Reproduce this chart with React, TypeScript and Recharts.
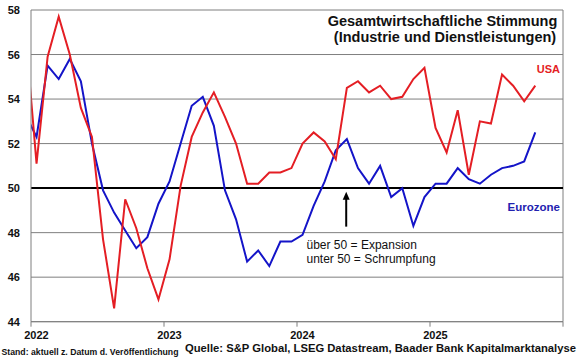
import React from "react";
import {
  LineChart,
  Line,
  XAxis,
  YAxis,
  CartesianGrid,
  ReferenceLine,
} from "recharts";

// Monthly composite PMI (S&P Global), Dec 2021 – Oct 2025
const months = [
  "2021-12",
  "2022-01", "2022-02", "2022-03", "2022-04", "2022-05", "2022-06",
  "2022-07", "2022-08", "2022-09", "2022-10", "2022-11", "2022-12",
  "2023-01", "2023-02", "2023-03", "2023-04", "2023-05", "2023-06",
  "2023-07", "2023-08", "2023-09", "2023-10", "2023-11", "2023-12",
  "2024-01", "2024-02", "2024-03", "2024-04", "2024-05", "2024-06",
  "2024-07", "2024-08", "2024-09", "2024-10", "2024-11", "2024-12",
  "2025-01", "2025-02", "2025-03", "2025-04", "2025-05", "2025-06",
  "2025-07", "2025-08", "2025-09", "2025-10",
];

const usa = [
  57.0,
  51.1, 55.9, 57.7, 56.0, 53.6, 52.3, 47.7, 44.6, 49.5, 48.2, 46.4, 45.0,
  46.8, 50.1, 52.3, 53.4, 54.3, 53.2, 52.0, 50.2, 50.2, 50.7, 50.7, 50.9,
  52.0, 52.5, 52.1, 51.3, 54.5, 54.8, 54.3, 54.6, 54.0, 54.1, 54.9, 55.4,
  52.7, 51.6, 53.5, 50.6, 53.0, 52.9, 55.1, 54.6, 53.9, 54.6,
];

const eurozone = [
  53.3,
  52.3, 55.5, 54.9, 55.8, 54.8, 52.0, 49.9, 48.9, 48.1, 47.3, 47.8, 49.3,
  50.3, 52.0, 53.7, 54.1, 52.8, 49.9, 48.6, 46.7, 47.2, 46.5, 47.6, 47.6,
  47.9, 49.2, 50.3, 51.7, 52.2, 50.9, 50.2, 51.0, 49.6, 50.0, 48.3, 49.6,
  50.2, 50.2, 50.9, 50.4, 50.2, 50.6, 50.9, 51.0, 51.2, 52.5,
];

const yearTicks = [2022, 2023, 2024, 2025, 2026];
const yearLabels = ["2022", "2023", "2024", "2025", ""];
const yTicks = [44, 46, 48, 50, 52, 54, 56, 58];

// arrow annotation (x position in years, from/to PMI values)
const arrowX = 2024.37;
const arrowFrom = 48.27;
const arrowTo = 49.84;

const toX = (m: string) => {
  const [y, mo] = m.split("-").map(Number);
  return y + (mo - 1 + 0.5) / 12;
};

const data = months.map((m, i) => ({
  t: toX(m),
  usa: usa[i],
  ez: eurozone[i],
}));

const FONT = "'Liberation Sans', Arial, Helvetica, sans-serif";
const GRID = "#7f7f7f";

const XTick = (props: any) => {
  const { x, y, payload } = props;
  const idx = yearTicks.indexOf(payload.value);
  const label = idx >= 0 ? yearLabels[idx] : "";
  if (!label) return null;
  return (
    <text
      x={x + 5.5}
      y={y + 9.8}
      textAnchor="middle"
      fontFamily={FONT}
      fontSize={11}
      fontWeight="bold"
      fill="#111"
    >
      {label}
    </text>
  );
};

const YTick = (props: any) => {
  const { x, y, payload } = props;
  return (
    <text
      x={x - 1}
      y={y + 4}
      textAnchor="end"
      fontFamily={FONT}
      fontSize={11}
      fontWeight="bold"
      fill="#111"
    >
      {payload.value}
    </text>
  );
};

const ArrowShape = (props: any) => {
  const { x1, y1, x2, y2 } = props;
  const bottom = Math.max(y1, y2);
  const top = Math.min(y1, y2);
  const x = x1 ?? x2;
  return (
    <g>
      <line x1={x} y1={bottom} x2={x} y2={top + 6} stroke="#000" strokeWidth={2} />
      <polygon
        points={`${x - 3.5},${top + 8} ${x + 3.5},${top + 8} ${x},${top}`}
        fill="#000"
      />
    </g>
  );
};

export default function App() {
  return (
    <div
      style={{
        position: "absolute",
        left: 0,
        top: 0,
        width: 580,
        height: 359,
        background: "#fff",
      }}
    >
      <LineChart
        width={580}
        height={359}
        data={data}
        margin={{ top: 10, right: 17, bottom: 7.3, left: 0 }}
      >
        <CartesianGrid
          horizontal={true}
          vertical={false}
          stroke={GRID}
          strokeWidth={1}
        />
        <XAxis
          dataKey="t"
          type="number"
          domain={[2022, 2026]}
          allowDataOverflow={true}
          ticks={yearTicks}
          height={30}
          axisLine={{ stroke: GRID }}
          tickLine={{ stroke: GRID }}
          tickSize={5}
          tickMargin={2}
          tick={<XTick />}
        />
        <YAxis
          type="number"
          domain={[44, 58]}
          allowDataOverflow={true}
          ticks={yTicks}
          width={31}
          axisLine={{ stroke: GRID }}
          tickLine={false}
          tickSize={0}
          tickMargin={10}
          tick={<YTick />}
        />
        <ReferenceLine x={2026} stroke={GRID} strokeWidth={1} />
        <ReferenceLine y={50} stroke="#000" strokeWidth={2} />
        <ReferenceLine
          segment={[
            { x: arrowX, y: arrowFrom },
            { x: arrowX, y: arrowTo },
          ]}
          shape={<ArrowShape />}
          ifOverflow="visible"
        />
        <Line
          type="linear"
          dataKey="ez"
          stroke="#1414c8"
          strokeWidth={2}
          dot={false}
          isAnimationActive={false}
        />
        <Line
          type="linear"
          dataKey="usa"
          stroke="#e41e24"
          strokeWidth={2}
          dot={false}
          isAnimationActive={false}
        />
      </LineChart>
      <svg
        width={580}
        height={359}
        style={{ position: "absolute", left: 0, top: 0, pointerEvents: "none" }}
      >
        <g fontFamily={FONT}>
          <text x={442.5} y={26} textAnchor="middle" fontSize={14.5} fontWeight="bold" fill="#111">
            Gesamtwirtschaftliche Stimmung
          </text>
          <text x={445} y={42} textAnchor="middle" fontSize={14.5} fontWeight="bold" fill="#111">
            (Industrie und Dienstleistungen)
          </text>
          <text x={560} y={73} textAnchor="end" fontSize={11} fontWeight="bold" fill="#e41e24">
            USA
          </text>
          <text x={560} y={210.5} textAnchor="end" fontSize={11.5} fontWeight="bold" fill="#2222b0">
            Eurozone
          </text>
          <text x={306.5} y={249} fontSize={12} fill="#111">
            über 50 = Expansion
          </text>
          <text x={306.5} y={262.5} fontSize={12} fill="#111">
            unter 50 = Schrumpfung
          </text>
          <text x={1.5} y={354.5} fontSize={9} fontWeight="bold" fill="#111" textLength={177} lengthAdjust="spacingAndGlyphs">
            Stand: aktuell z. Datum d. Veröffentlichung
          </text>
          <text x={185} y={351.5} fontSize={11} fontWeight="bold" fill="#111" textLength={391} lengthAdjust="spacingAndGlyphs">
            Quelle: S&amp;P Global, LSEG Datastream, Baader Bank Kapitalmarktanalyse
          </text>
        </g>
      </svg>
    </div>
  );
}
